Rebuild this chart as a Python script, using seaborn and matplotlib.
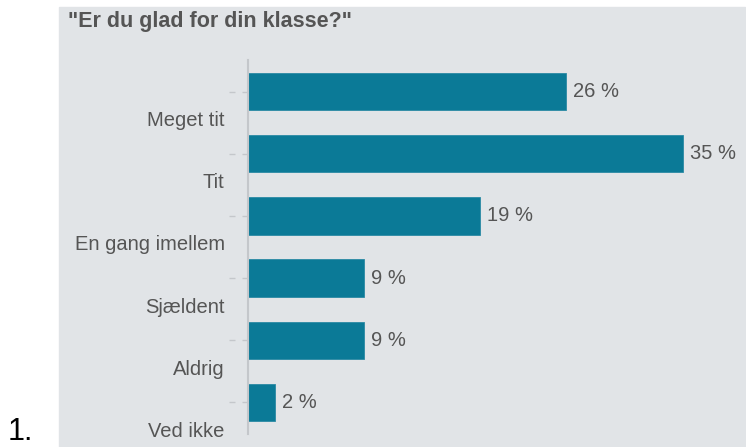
import matplotlib
matplotlib.use("Agg")
import matplotlib.pyplot as plt
import matplotlib.transforms as mtransforms
from matplotlib.patches import Rectangle
import seaborn as sns
import pandas as pd

# data
answers = ["Meget tit", "Tit", "En gang imellem", "Sjældent", "Aldrig", "Ved ikke"]
shares = [25.6, 35.0, 18.7, 9.3, 9.3, 2.2]
share_labels = ["26 %", "35 %", "19 %", "9 %", "9 %", "2 %"]
title = '"Er du glad for din klasse?"'

panel_gray = "#e1e4e7"
bar_color = "#0b7a97"
text_gray = "#555555"
axis_gray = "#c4c7cb"

df = pd.DataFrame({"svar": answers, "andel": shares})

sns.set_theme(style="white")
plt.rcParams["font.family"] = ["Liberation Sans", "DejaVu Sans"]

fig = plt.figure(figsize=(7.46, 4.47), dpi=100)
fig.patch.set_facecolor("white")

# grey panel behind the chart
fig.patches.append(Rectangle((59 / 746, 0), (745 - 59) / 746, 440 / 447,
                             transform=fig.transFigure, color=panel_gray, zorder=-10))

ax = fig.add_axes([248 / 746, (447 - 433.5) / 447, (739 - 248) / 746, (433.5 - 60.5) / 447])
ax.set_facecolor(panel_gray)

sns.barplot(data=df, x="andel", y="svar", orient="h", color=bar_color,
            width=0.6, saturation=1, edgecolor="#2a8aa4", linewidth=0.6, ax=ax)
ax.set_xlim(0, 39.5)
ax.set_ylim(5.5, -0.5)

ax.bar_label(ax.containers[0], labels=share_labels, padding=5,
             fontsize=14.5, color=text_gray)

for s in ["top", "right", "bottom"]:
    ax.spines[s].set_visible(False)
ax.spines["left"].set_color(axis_gray)
ax.spines["left"].set_linewidth(1.5)

ax.set_xticks([])
ax.set_xlabel("")
ax.set_ylabel("")
ax.tick_params(axis="y", left=True, length=4.3, width=1, color=axis_gray,
               pad=12.5, labelsize=14.5, labelcolor=text_gray)

# labels sit below their tick, as in the original
offset = mtransforms.ScaledTranslation(0, -0.27, fig.dpi_scale_trans)
for lab in ax.get_yticklabels():
    lab.set_transform(lab.get_transform() + offset)

# second little dash left of each tick
dash_tr = mtransforms.blended_transform_factory(ax.transAxes, ax.transData)
ax.plot([-0.0325] * len(answers), range(len(answers)), linestyle="none",
        marker="_", markersize=4.3, markeredgewidth=1, color=axis_gray,
        transform=dash_tr, clip_on=False)

fig.text(68 / 746, 1 - 27 / 447, title, fontsize=15.5, fontweight="bold",
         color=text_gray, va="baseline", ha="left")
fig.text(8 / 746, 1 - 440 / 447, "1.", fontsize=22, color="black",
         va="baseline", ha="left")

fig.savefig("out.png", dpi=100, facecolor="white")
